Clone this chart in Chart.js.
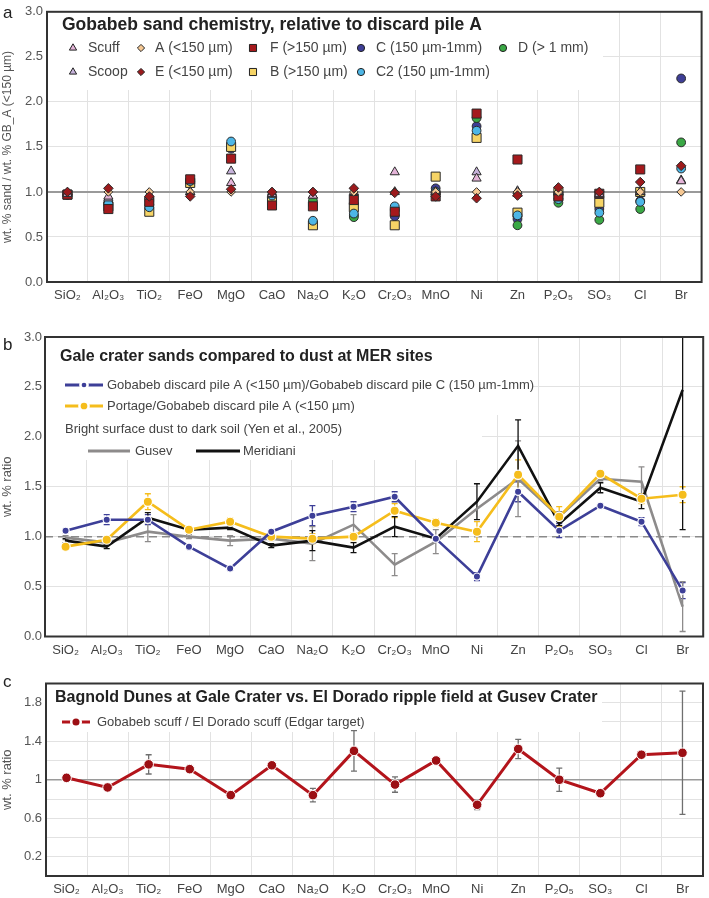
<!DOCTYPE html>
<html lang="en">
<head>
  <meta charset="UTF-8">
  <title>Gobabeb sand chemistry</title>
  <script src="https://cdn.jsdelivr.net/npm/chart.js"></script>
  <style>
    body {
      margin: 0;
      background: #fff;
      width: 709px;
      height: 898px;
      position: relative;
      overflow: hidden;
    }
    .panel {
      position: absolute;
      left: 0;
      width: 709px;
    }
  </style>
</head>
<body>
  <div class="panel" style="top:0;height:305px"><canvas id="chartA"></canvas></div>
  <div class="panel" style="top:310px;height:350px"><canvas id="chartB"></canvas></div>
  <div class="panel" style="top:665px;height:233px"><canvas id="chartC"></canvas></div>

  <script>
    const oxides = ['SiO₂', 'Al₂O₃', 'TiO₂', 'FeO', 'MgO', 'CaO', 'Na₂O', 'K₂O',
                    'Cr₂O₃', 'MnO', 'Ni', 'Zn', 'P₂O₅', 'SO₃', 'Cl', 'Br'];

    // panel a: sand / discard pile A (<150 µm)
    const scuff  = [0.98, 0.95, 0.97, 1.00, 1.10, 0.98, 0.96, 1.00, 1.22, 1.00, 1.15, 0.98, 1.00, 0.98, 1.00, 1.12];
    const scoop  = [0.98, 0.93, 0.95, 1.00, 1.23, 0.97, 0.96, 0.99, 1.00, 1.00, 1.22, 1.01, 1.00, 0.97, 1.00, 1.13];
    const pileA  = [1.00, 1.00, 1.00, 1.00, 1.00, 1.00, 1.00, 1.00, 1.00, 1.00, 1.00, 1.00, 1.00, 1.00, 1.00, 1.00];
    const pileE  = [1.00, 1.04, 0.95, 0.95, 1.03, 1.00, 1.00, 1.04, 0.99, 0.95, 0.93, 0.96, 1.05, 1.00, 1.11, 1.29];
    const pileF  = [0.97, 0.81, 0.89, 1.14, 1.37, 0.85, 0.84, 0.91, 0.78, 0.95, 1.87, 1.36, 0.95, 0.98, 1.25, null];
    const pileB  = [0.97, 0.84, 0.78, 1.10, 1.50, 0.90, 0.63, 0.83, 0.63, 1.17, 1.60, 0.77, 1.00, 0.88, 1.00, null];
    const pileC  = [0.97, 0.88, 0.90, 1.12, 1.48, 0.92, 0.86, 0.74, 0.73, 1.04, 1.73, 0.70, 0.93, 0.81, 0.90, 2.26];
    const pileC2 = [0.97, 0.87, 0.83, 1.12, 1.56, 0.96, 0.68, 0.76, 0.84, 1.00, 1.68, 0.74, 0.92, 0.77, 0.89, 1.26];
    const pileD  = [0.97, 0.86, 0.86, 1.12, 1.50, 0.90, 0.90, 0.72, 0.80, 1.00, 1.82, 0.63, 0.88, 0.69, 0.81, 1.55];

    // panel b: ratios with uncertainties
    const gbAC        = [1.06, 1.17, 1.17, 0.90, 0.68, 1.05, 1.21, 1.30, 1.40, 0.98, 0.60, 1.45, 1.06, 1.31, 1.15, 0.46];
    const gbACErr     = [0.02, 0.05, 0.05, 0.02, 0.02, 0.02, 0.10, 0.05, 0.05, 0.02, 0.04, 0.10, 0.07, 0.02, 0.04, 0.08];
    const portage     = [0.90, 0.97, 1.35, 1.07, 1.15, 1.00, 0.98, 1.00, 1.26, 1.14, 1.05, 1.62, 1.20, 1.63, 1.38, 1.42];
    const portageErr  = [0.02, 0.03, 0.08, 0.02, 0.04, 0.02, 0.05, 0.04, 0.07, 0.04, 0.10, 0.15, 0.10, 0.02, 0.05, 0.08];
    const gusev       = [0.99, 0.94, 1.05, 1.00, 0.96, 0.98, 0.93, 1.12, 0.72, 0.95, 1.28, 1.58, 1.20, 1.58, 1.55, 0.30];
    const gusevErr    = [0.02, 0.02, 0.10, 0.02, 0.05, 0.02, 0.17, 0.10, 0.11, 0.12, 0.00, 0.38, 0.05, 0.02, 0.15, 0.25];
    const meridiani   = [0.96, 0.90, 1.19, 1.07, 1.09, 0.91, 0.96, 0.89, 1.10, 0.98, 1.35, 1.91, 1.13, 1.49, 1.35, 2.47];
    const meridianiErr= [0.02, 0.02, 0.05, 0.02, 0.02, 0.02, 0.10, 0.05, 0.10, 0.02, 0.18, 0.26, 0.02, 0.05, 0.07, 1.40];

    // panel c
    const edgar    = [1.02, 0.92, 1.16, 1.11, 0.84, 1.15, 0.84, 1.30, 0.95, 1.20, 0.74, 1.32, 1.00, 0.86, 1.26, 1.28];
    const edgarErr = [0, 0, 0.10, 0, 0, 0, 0.07, 0.21, 0.08, 0.04, 0.05, 0.10, 0.12, 0, 0, 0.64];

    const ticksAB = [0, 0.5, 1, 1.5, 2, 2.5, 3];
    const ticksC = [0, 0.2, 0.4, 0.6, 0.8, 1, 1.2, 1.4, 1.6, 1.8, 2];
    const labelsC = [0.2, 0.6, 1, 1.4, 1.8];

    Chart.defaults.font.family = '"Liberation Sans", Arial, sans-serif';
    const FAMILY = '"Liberation Sans", Arial, sans-serif';

    function marker(ctx, style, x, y, r, fill, stroke, bw) {
      ctx.beginPath();
      if (style === 'circle') {
        ctx.arc(x, y, r, 0, Math.PI * 2);
      } else if (style === 'rect') {
        const s = r * Math.SQRT1_2;
        ctx.rect(x - s, y - s, 2 * s, 2 * s);
      } else if (style === 'rectRot') {
        ctx.moveTo(x - r, y); ctx.lineTo(x, y - r); ctx.lineTo(x + r, y); ctx.lineTo(x, y + r);
        ctx.closePath();
      } else if (style === 'triangle') {
        for (let k = 0; k < 3; k++) {
          const a = k * 2 * Math.PI / 3;
          const px = x + Math.sin(a) * r, py = y - Math.cos(a) * r;
          k ? ctx.lineTo(px, py) : ctx.moveTo(px, py);
        }
        ctx.closePath();
      }
      ctx.fillStyle = fill;
      ctx.fill();
      if (bw) {
        ctx.lineWidth = bw;
        ctx.strokeStyle = stroke;
        ctx.stroke();
      }
    }

    // boxes, reference line, error bars, frame, titles and legends
    const deco = {
      id: 'deco',
      beforeDatasetsDraw(chart, args, o) {
        const { ctx, chartArea: a, scales } = chart;
        ctx.save();
        ctx.fillStyle = '#fff';
        (o.boxes || []).forEach(b => ctx.fillRect(b[0], b[1], b[2] - b[0], b[3] - b[1]));
        if (o.ref) {
          const y = scales.y.getPixelForValue(o.ref.value);
          ctx.strokeStyle = o.ref.color;
          ctx.lineWidth = o.ref.width;
          ctx.setLineDash(o.ref.dash || []);
          ctx.beginPath(); ctx.moveTo(a.left, y); ctx.lineTo(a.right, y); ctx.stroke();
          ctx.setLineDash([]);
        }
        ctx.beginPath();
        ctx.rect(a.left, a.top, a.width, a.height);
        ctx.clip();
        chart.data.datasets.forEach((ds, i) => {
          if (!ds.errors) return;
          chart.getDatasetMeta(i).data.forEach((pt, j) => {
            const e = ds.errors[j], v = ds.data[j];
            if (!e || v == null) return;
            const y1 = scales.y.getPixelForValue(v - e), y2 = scales.y.getPixelForValue(v + e);
            const x = pt.x, c = 3;
            ctx.strokeStyle = ds.errorColor;
            ctx.lineWidth = 1.3;
            ctx.beginPath();
            ctx.moveTo(x, y1); ctx.lineTo(x, y2);
            ctx.moveTo(x - c, y1); ctx.lineTo(x + c, y1);
            ctx.moveTo(x - c, y2); ctx.lineTo(x + c, y2);
            ctx.stroke();
          });
        });
        ctx.restore();
      },
      afterDraw(chart, args, o) {
        const { ctx, chartArea: a } = chart;
        const dss = chart.data.datasets;
        ctx.save();
        ctx.strokeStyle = '#333';
        ctx.lineWidth = 2;
        ctx.strokeRect(a.left, a.top, a.width, a.height);

        ctx.fillStyle = '#222';
        ctx.textBaseline = 'alphabetic';
        ctx.font = '17px ' + FAMILY;
        ctx.fillText(o.letter[0], 3, o.letter[1]);

        ctx.textBaseline = 'middle';
        ctx.font = 'bold ' + o.titleSize + 'px ' + FAMILY;
        ctx.fillText(o.title[0], o.title[1], o.title[2]);

        ctx.font = o.legendSize + 'px ' + FAMILY;
        o.items.forEach(it => {
          const ds = it.ds != null ? dss[it.ds] : null;
          if (it.line) {
            ctx.strokeStyle = ds.borderColor;
            ctx.lineWidth = 3;
            ctx.beginPath(); ctx.moveTo(it.line[0], it.y); ctx.lineTo(it.line[1], it.y); ctx.stroke();
            if (ds.pointRadius) {
              marker(ctx, 'circle', (it.line[0] + it.line[1]) / 2, it.y, ds.pointRadius,
                     ds.pointBackgroundColor, '#fff', 2.5);
            }
          } else if (ds) {
            marker(ctx, ds.pointStyle, it.x, it.y, it.r, ds.pointBackgroundColor, '#222', 1);
          }
          ctx.fillStyle = '#444';
          ctx.fillText(it.text, it.tx, it.y);
        });
        ctx.restore();
      }
    };
    Chart.register(deco);

    function baseOptions(p) {
      return {
        responsive: true,
        maintainAspectRatio: false,
        animation: false,
        events: [],
        layout: { padding: { top: p.top, right: p.right, bottom: 0, left: 0 } },
        plugins: { legend: { display: false }, tooltip: { enabled: false }, deco: p.deco },
        scales: {
          x: {
            offset: true,
            grid: { offset: true, color: '#e2e2e2', drawTicks: false },
            border: { display: false },
            ticks: { color: '#444', font: { size: 13 }, padding: 6, maxRotation: 0, autoSkip: false },
            afterFit(s) { s.height = p.xh; }
          },
          y: {
            min: p.min,
            max: p.max,
            afterBuildTicks(s) { s.ticks = p.ticks.map(v => ({ value: v })); },
            grid: { color: '#e2e2e2', drawTicks: false },
            border: { display: false },
            ticks: {
              color: '#555', font: { size: 13 }, padding: p.tickPad,
              callback: p.fmt
            },
            title: { display: true, text: p.yTitle, color: '#555', font: { size: p.yTitleSize || 13 }, padding: { top: 0, bottom: 2 } },
            afterFit(s) { s.width = p.yw; }
          }
        }
      };
    }

    function pts(label, data, style, r, color, order) {
      return {
        label, data, order, showLine: false,
        pointStyle: style, pointRadius: r,
        pointBackgroundColor: color, pointBorderColor: '#2a2a2a', pointBorderWidth: 1,
        borderColor: color, backgroundColor: color
      };
    }

    new Chart(document.getElementById('chartA'), {
      type: 'line',
      data: {
        labels: oxides,
        datasets: [
          pts('Scuff', scuff, 'triangle', 5.3, '#e4b4d8', 2),
          pts('Scoop', scoop, 'triangle', 5.3, '#c6b2da', 3),
          pts('A (<150 µm)', pileA, 'rectRot', 4.3, '#f6c893', 1),
          pts('E (<150 µm)', pileE, 'rectRot', 4.8, '#9c1a1c', 0),
          pts('F (>150 µm)', pileF, 'rect', 6.4, '#a5191c', 4),
          pts('B (>150 µm)', pileB, 'rect', 6.4, '#f6d466', 6),
          pts('C (150 µm-1mm)', pileC, 'circle', 4.4, '#3e3e96', 8),
          pts('C2 (150 µm-1mm)', pileC2, 'circle', 4.4, '#4db6e6', 5),
          pts('D (> 1 mm)', pileD, 'circle', 4.4, '#3aa845', 7)
        ]
      },
      options: baseOptions({
        top: 7, right: 6, xh: 23, yw: 47, tickPad: 4, min: 0, max: 3, ticks: ticksAB,
        fmt: v => v.toFixed(1),
        yTitle: 'wt. % sand / wt. % GB_A (<150 µm)', yTitleSize: 12,
        deco: {
          letter: ['a', 18],
          titleSize: 17.5, legendSize: 14,
          title: ['Gobabeb sand chemistry, relative to discard pile A', 62, 25],
          boxes: [[47, 7, 603, 90]],
          ref: { value: 1, color: '#9a9a9a', width: 2 },
          items: [
            { ds: 0, x: 73, y: 48, r: 4.2, tx: 88, text: 'Scuff' },
            { ds: 1, x: 73, y: 72, r: 4.2, tx: 88, text: 'Scoop' },
            { ds: 2, x: 141, y: 48, r: 3.6, tx: 155, text: 'A (<150 µm)' },
            { ds: 3, x: 141, y: 72, r: 3.6, tx: 155, text: 'E (<150 µm)' },
            { ds: 4, x: 253, y: 48, r: 5, tx: 270, text: 'F (>150 µm)' },
            { ds: 5, x: 253, y: 72, r: 5, tx: 270, text: 'B (>150 µm)' },
            { ds: 6, x: 361, y: 48, r: 3.6, tx: 376, text: 'C (150 µm-1mm)' },
            { ds: 7, x: 361, y: 72, r: 3.6, tx: 376, text: 'C2 (150 µm-1mm)' },
            { ds: 8, x: 503, y: 48, r: 3.6, tx: 518, text: 'D (> 1 mm)' }
          ]
        }
      })
    });

    function lineSet(label, data, errors, color, errorColor, r, order) {
      return {
        label, data, errors, errorColor, order,
        borderColor: color, backgroundColor: color, borderWidth: 2.6, tension: 0,
        pointRadius: r, pointBackgroundColor: color, pointBorderColor: '#fff', pointBorderWidth: 1.2
      };
    }

    new Chart(document.getElementById('chartB'), {
      type: 'line',
      data: {
        labels: oxides,
        datasets: [
          lineSet('Gobabeb discard pile A (<150 µm)/Gobabeb discard pile C (150 µm-1mm)', gbAC, gbACErr, '#3d3f98', '#3d3f98', 3.6, 0),
          lineSet('Portage/Gobabeb discard pile A (<150 µm)', portage, portageErr, '#f5bd1c', '#f5bd1c', 4.6, 1),
          lineSet('Gusev', gusev, gusevErr, '#8d8b8b', '#8d8b8b', 0, 3),
          lineSet('Meridiani', meridiani, meridianiErr, '#111', '#111', 0, 2)
        ]
      },
      options: baseOptions({
        top: 27, right: 5, xh: 23.5, yw: 45, tickPad: 3, min: 0, max: 3, ticks: ticksAB,
        fmt: v => v.toFixed(1),
        yTitle: 'wt. % ratio',
        deco: {
          letter: ['b', 40],
          titleSize: 16, legendSize: 13,
          title: ['Gale crater sands compared to dust at MER sites', 60, 47],
          boxes: [[45, 27, 533, 105], [45, 105, 482, 150]],
          ref: { value: 1, color: '#8a8a8a', width: 1.5, dash: [8, 5] },
          items: [
            { ds: 0, line: [65, 103], y: 75, tx: 107, text: 'Gobabeb discard pile A (<150 µm)/Gobabeb discard pile C (150 µm-1mm)' },
            { ds: 1, line: [65, 103], y: 96, tx: 107, text: 'Portage/Gobabeb discard pile A (<150 µm)' },
            { y: 119, tx: 65, text: 'Bright surface dust to dark soil (Yen et al., 2005)' },
            { ds: 2, line: [88, 130], y: 141, tx: 135, text: 'Gusev' },
            { ds: 3, line: [196, 240], y: 141, tx: 243, text: 'Meridiani' }
          ]
        }
      })
    });

    new Chart(document.getElementById('chartC'), {
      type: 'line',
      data: {
        labels: oxides,
        datasets: [
          {
            label: 'Gobabeb scuff / El Dorado scuff (Edgar target)',
            data: edgar, errors: edgarErr, errorColor: '#6f6f6f',
            borderColor: '#b3141b', backgroundColor: '#9c0f14', borderWidth: 3, tension: 0,
            pointRadius: 4.8, pointBackgroundColor: '#9c0f14', pointBorderColor: '#fff', pointBorderWidth: 1
          }
        ]
      },
      options: baseOptions({
        top: 18.5, right: 6, xh: 22, yw: 46, tickPad: 4, min: 0, max: 2, ticks: ticksC,
        fmt: v => labelsC.some(l => Math.abs(l - v) < 1e-6) ? String(Number(v.toFixed(1))) : '',
        yTitle: 'wt. % ratio',
        deco: {
          letter: ['c', 22],
          titleSize: 16, legendSize: 13,
          title: ['Bagnold Dunes at Gale Crater vs. El Dorado ripple field at Gusev Crater', 55, 33],
          boxes: [[46, 18, 602, 67]],
          ref: { value: 1, color: '#9a9a9a', width: 1.5 },
          items: [
            { ds: 0, line: [62, 90], y: 57, tx: 97, text: 'Gobabeb scuff / El Dorado scuff (Edgar target)' }
          ]
        }
      })
    });
  </script>
</body>
</html>
